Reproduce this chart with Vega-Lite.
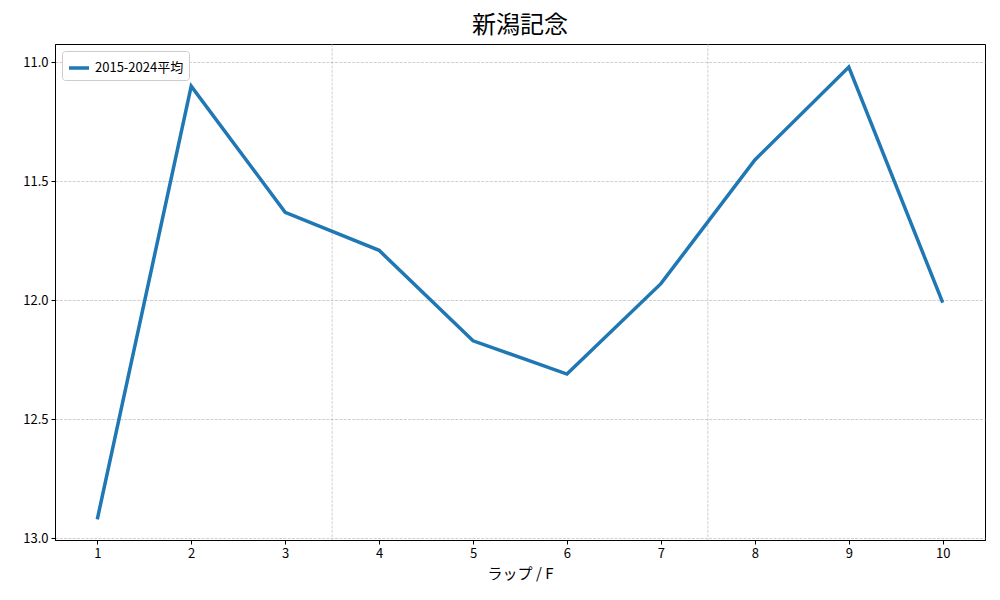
{
  "$schema": "https://vega.github.io/schema/vega-lite/v6.json",
  "width": 930,
  "height": 496,
  "autosize": {"type": "none"},
  "padding": {"left": 55, "top": 44, "right": 15, "bottom": 60},
  "background": "white",
  "title": {
    "text": "新潟記念",
    "font": "Noto Sans CJK JP",
    "fontSize": 24,
    "fontWeight": "normal",
    "color": "black",
    "anchor": "middle",
    "offset": 6
  },
  "config": {
    "view": {"stroke": "black", "strokeWidth": 1},
    "font": "Noto Sans CJK JP",
    "axis": {
      "labelFont": "Noto Sans CJK JP",
      "titleFont": "Noto Sans CJK JP",
      "labelFontSize": 13,
      "labelColor": "black",
      "titleColor": "black",
      "domainColor": "black",
      "tickColor": "black",
      "tickSize": 4,
      "labelPadding": 3
    }
  },
  "datasets": {
    "laps": [
      {"lap": 1, "time": 12.92, "series": "2015-2024平均"},
      {"lap": 2, "time": 11.10, "series": "2015-2024平均"},
      {"lap": 3, "time": 11.63, "series": "2015-2024平均"},
      {"lap": 4, "time": 11.79, "series": "2015-2024平均"},
      {"lap": 5, "time": 12.17, "series": "2015-2024平均"},
      {"lap": 6, "time": 12.31, "series": "2015-2024平均"},
      {"lap": 7, "time": 11.93, "series": "2015-2024平均"},
      {"lap": 8, "time": 11.41, "series": "2015-2024平均"},
      {"lap": 9, "time": 11.02, "series": "2015-2024平均"},
      {"lap": 10, "time": 12.01, "series": "2015-2024平均"}
    ],
    "dividers": [{"x": 3.5}, {"x": 7.5}]
  },
  "layer": [
    {
      "data": {"name": "dividers"},
      "mark": {"type": "rule", "color": "#b0b0b0", "strokeWidth": 0.6, "strokeDash": [3, 1.3]},
      "encoding": {
        "x": {"field": "x", "type": "quantitative", "scale": {"domain": [0.55, 10.45], "nice": false, "zero": false}}
      }
    },
    {
      "data": {"name": "laps"},
      "mark": {"type": "line", "strokeWidth": 3.5, "clip": true},
      "encoding": {
        "x": {
          "field": "lap",
          "type": "quantitative",
          "scale": {"domain": [0.55, 10.45], "nice": false, "zero": false},
          "axis": {
            "values": [1, 2, 3, 4, 5, 6, 7, 8, 9, 10],
            "format": "d",
            "grid": false,
            "title": "ラップ / F",
            "titleFontSize": 15,
            "titleFontWeight": "normal",
            "titlePadding": 6
          }
        },
        "y": {
          "field": "time",
          "type": "quantitative",
          "scale": {"domain": [10.923, 13.007], "reverse": true, "nice": false, "zero": false},
          "axis": {
            "values": [11.0, 11.5, 12.0, 12.5, 13.0],
            "format": ".1f",
            "title": null,
            "grid": true,
            "gridColor": "#b0b0b0",
            "gridWidth": 0.6,
            "gridDash": [3, 1.3]
          }
        },
        "color": {
          "field": "series",
          "type": "nominal",
          "scale": {"range": ["#1f77b4"]},
          "legend": {
            "title": null,
            "orient": "top-left",
            "offset": 7,
            "symbolType": "stroke",
            "symbolStrokeWidth": 3.5,
            "symbolSize": 400,
            "labelFontSize": 13,
            "labelFont": "Noto Sans CJK JP",
            "labelColor": "black",
            "fillColor": "white",
            "strokeColor": "#cccccc",
            "cornerRadius": 3,
            "padding": 5
          }
        }
      }
    }
  ]
}
